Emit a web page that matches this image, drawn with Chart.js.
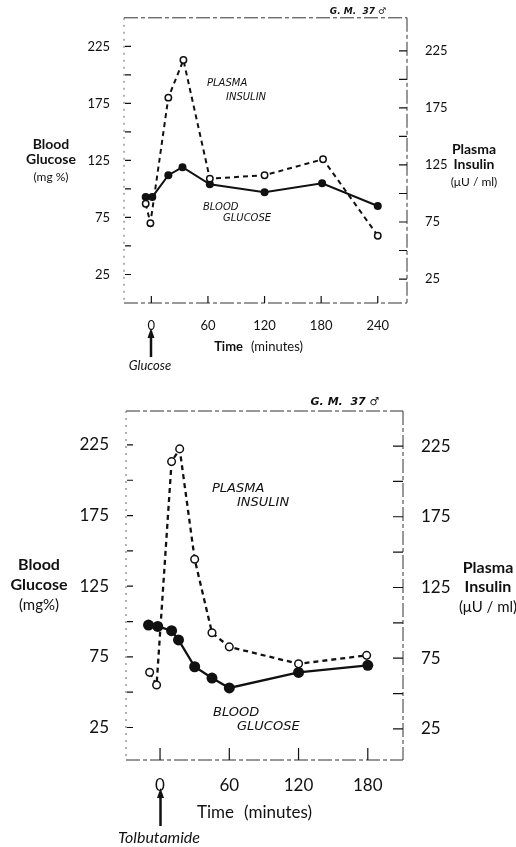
<!DOCTYPE html>
<html>
<head>
<meta charset="utf-8">
<script src="https://cdn.jsdelivr.net/npm/chart.js@4/dist/chart.umd.min.js"></script>
<style>
  body { margin: 0; background: #fff; width: 516px; height: 847px; overflow: hidden; position: relative; }
  canvas { position: absolute; left: 0; }
</style>
</head>
<body>
<canvas id="glucosePanel" width="516" height="380" style="top:0px"></canvas>
<canvas id="tolbPanel" width="516" height="467" style="top:380px"></canvas>
<script>
// Top panel: oral glucose (minutes / mg% / µU per ml)
var glucoseBgTimes = [-6, 1, 18, 33, 62, 120, 181, 240];
var glucoseBg = [93, 93, 112, 119, 104, 97, 105, 85];
var glucoseInsTimes = [-6, -1, 18, 34, 62, 120, 182, 240];
var glucoseIns = [91, 74, 184, 217, 113, 116, 130, 63];

// Bottom panel: tolbutamide
var tolbBgTimes = [-10, -2, 10, 16, 30, 45, 60, 120, 180];
var tolbBg = [97.5, 96.5, 93.5, 87, 68, 60, 53, 64, 69];
var tolbInsTimes = [-9, -3, 10, 17, 30, 45, 60, 120, 179];
var tolbIns = [65, 56, 214, 223, 145, 93, 83, 71, 77];

// Axis ticks
var yTicks = [25, 50, 75, 100, 125, 150, 175, 200, 225];
var yLabels = [25, 75, 125, 175, 225];
var topXTicks = [0, 60, 120, 180, 240];
var bottomXTicks = [0, 60, 120, 180];

var INK = '#111';
var TICK_FONT = 'Lato';

function zip(xs, ys) {
    return xs.map(function(x, i) { return { x: x, y: ys[i] }; });
}

function setTicks(list) {
    return function(scale) {
        scale.ticks = list.map(function(v) { return { value: v }; });
    };
}

// frame, inward tick marks and all the loose text
function panelPlugin(o) {
    return {
        id: 'panel',
        beforeDatasetsDraw: function(chart) {
            var c = chart.ctx, a = chart.chartArea, s = chart.scales;
            c.save();
            c.strokeStyle = '#333';
            c.lineWidth = 1;
            c.setLineDash([14, 3, 4, 3]);
            c.beginPath();
            c.moveTo(a.left, a.top); c.lineTo(a.right, a.top);
            c.moveTo(a.left, a.bottom); c.lineTo(a.right, a.bottom);
            c.moveTo(a.right, a.top); c.lineTo(a.right, a.bottom);
            c.stroke();
            c.setLineDash([2, 5]);
            c.strokeStyle = '#666';
            c.beginPath();
            c.moveTo(a.left, a.top); c.lineTo(a.left, a.bottom);
            c.stroke();
            c.setLineDash([]);
            c.strokeStyle = INK;
            c.lineWidth = 1.2;
            c.beginPath();
            yTicks.forEach(function(v) {
                var py = s.y.getPixelForValue(v);
                c.moveTo(a.left + 1, py); c.lineTo(a.left + o.tickL, py);
                var qy = s.y2.getPixelForValue(v);
                c.moveTo(a.right, qy); c.lineTo(a.right - o.tickR, qy);
            });
            o.xTicks.forEach(function(v) {
                var px = s.x.getPixelForValue(v);
                c.moveTo(px, a.bottom); c.lineTo(px, a.bottom - o.tickX);
            });
            c.stroke();
            c.restore();
        },
        afterDraw: function(chart) {
            var c = chart.ctx;
            c.save();
            c.fillStyle = INK;
            c.textBaseline = 'middle';
            o.texts.forEach(function(t) {
                c.font = t.font;
                c.textAlign = t.align || 'center';
                c.fillText(t.text, t.x, t.y);
            });
            // arrow under the x axis
            var ar = o.arrow;
            c.strokeStyle = INK;
            c.lineWidth = 2.5;
            c.beginPath();
            c.moveTo(ar.x, ar.bottom); c.lineTo(ar.x, ar.top + 8);
            c.stroke();
            c.beginPath();
            c.moveTo(ar.x, ar.top); c.lineTo(ar.x - 3.5, ar.top + 10); c.lineTo(ar.x + 3.5, ar.top + 10);
            c.closePath();
            c.fill();
            c.restore();
        }
    };
}

function makePanel(id, o) {
    var W = o.w, H = o.h, area = o.area;
    var tickFont = { family: TICK_FONT, size: o.tickSize };
    var labelOnly = function(v) { return yLabels.indexOf(v) >= 0 ? String(v) : ''; };
    return new Chart(document.getElementById(id), {
        type: 'line',
        data: {
            datasets: [
                {
                    label: 'Plasma insulin',
                    data: zip(o.insT, o.ins),
                    yAxisID: 'y2',
                    borderColor: INK,
                    borderWidth: o.lw,
                    borderDash: [5, 4],
                    pointRadius: o.openR,
                    pointBackgroundColor: '#fff',
                    pointBorderColor: INK,
                    pointBorderWidth: 1.5,
                    tension: 0
                },
                {
                    label: 'Blood glucose',
                    data: zip(o.bgT, o.bg),
                    yAxisID: 'y',
                    borderColor: INK,
                    borderWidth: o.lw,
                    pointRadius: o.dotR,
                    pointBackgroundColor: INK,
                    pointBorderWidth: 0,
                    tension: 0
                }
            ]
        },
        options: {
            responsive: false,
            animation: false,
            events: [],
            layout: { padding: { top: area.top, left: 0, right: 0, bottom: 0 } },
            plugins: { legend: { display: false }, tooltip: { enabled: false } },
            scales: {
                x: {
                    type: 'linear',
                    min: o.xMin, max: o.xMax,
                    grid: { display: false },
                    border: { display: false },
                    afterBuildTicks: setTicks(o.xTicks),
                    ticks: { font: tickFont, color: INK, padding: o.padX, maxRotation: 0, autoSkip: false },
                    afterFit: function(s) { s.height = H - area.bottom; }
                },
                y: {
                    position: 'left',
                    min: o.yMin, max: o.yMax,
                    grid: { display: false },
                    border: { display: false },
                    afterBuildTicks: setTicks(yTicks),
                    ticks: { font: tickFont, color: INK, padding: o.padL, autoSkip: false, callback: labelOnly },
                    afterFit: function(s) { s.width = area.left; }
                },
                y2: {
                    position: 'right',
                    min: o.y2Min, max: o.y2Max,
                    grid: { display: false },
                    border: { display: false },
                    afterBuildTicks: setTicks(yTicks),
                    ticks: { font: tickFont, color: INK, padding: o.padR, autoSkip: false, callback: labelOnly },
                    afterFit: function(s) { s.width = W - area.right; }
                }
            }
        },
        plugins: [panelPlugin(o)]
    });
}

makePanel('glucosePanel', {
    w: 516, h: 380,
    area: { left: 124, right: 407, top: 17, bottom: 303 },
    xMin: -29, xMax: 271, yMin: 0, yMax: 250, y2Min: 4, y2Max: 254,
    xTicks: topXTicks,
    bgT: glucoseBgTimes, bg: glucoseBg, insT: glucoseInsTimes, ins: glucoseIns,
    tickSize: 13, padX: 7, padL: 6, padR: 10,
    tickL: 7, tickR: 8, tickX: 7,
    lw: 2, dotR: 4, openR: 3.2,
    arrow: { x: 151, top: 328, bottom: 357 },
    texts: [
        { text: 'G. M.  37 \u2642', x: 358, y: 12, font: 'italic bold 9px "DejaVu Sans"' },
        { text: 'Blood', x: 51, y: 144, font: 'bold 14px Lato' },
        { text: 'Glucose', x: 51, y: 159, font: 'bold 14px Lato' },
        { text: '(mg %)', x: 51, y: 177, font: '12px Lato' },
        { text: 'Plasma', x: 474, y: 149, font: 'bold 14px Lato' },
        { text: 'Insulin', x: 474, y: 164, font: 'bold 14px Lato' },
        { text: '(\u03bcU / ml)', x: 474, y: 182, font: '12px Lato' },
        { text: 'Time', x: 243, y: 347, align: 'right', font: 'bold 13px Lato' },
        { text: '(minutes)', x: 251, y: 347, align: 'left', font: '13px Lato' },
        { text: 'Glucose', x: 150, y: 366, font: 'italic 13px Lato' },
        { text: 'PLASMA', x: 207, y: 83, align: 'left', font: 'italic 10px "DejaVu Sans"' },
        { text: 'INSULIN', x: 226, y: 97, align: 'left', font: 'italic 10px "DejaVu Sans"' },
        { text: 'BLOOD', x: 203, y: 207, align: 'left', font: 'italic 10px "DejaVu Sans"' },
        { text: 'GLUCOSE', x: 223, y: 218, align: 'left', font: 'italic 10px "DejaVu Sans"' }
    ]
});

makePanel('tolbPanel', {
    w: 516, h: 467,
    area: { left: 126, right: 403, top: 31, bottom: 380 },
    xMin: -29.5, xMax: 210.5, yMin: 2, yMax: 249, y2Min: 3, y2Max: 249.8,
    xTicks: bottomXTicks,
    bgT: tolbBgTimes, bg: tolbBg, insT: tolbInsTimes, ins: tolbIns,
    tickSize: 17, padX: 7, padL: 9, padR: 10,
    tickL: 7, tickR: 10, tickX: 12,
    lw: 2.3, dotR: 5.5, openR: 3.8,
    arrow: { x: 160.5, top: 408, bottom: 446 },
    texts: [
        { text: 'G. M.  37 \u2642', x: 345, y: 22, font: 'italic bold 11px "DejaVu Sans"' },
        { text: 'Blood', x: 39, y: 185, font: 'bold 16px Lato' },
        { text: 'Glucose', x: 39, y: 205, font: 'bold 16px Lato' },
        { text: '(mg%)', x: 39, y: 225, font: '15px Lato' },
        { text: 'Plasma', x: 488, y: 188, font: 'bold 16px Lato' },
        { text: 'Insulin', x: 488, y: 207, font: 'bold 16px Lato' },
        { text: '(\u03bcU / ml)', x: 488, y: 227, font: '15px Lato' },
        { text: 'Time', x: 234, y: 433, align: 'right', font: '17px Lato' },
        { text: '(minutes)', x: 244, y: 433, align: 'left', font: '17px Lato' },
        { text: 'Tolbutamide', x: 159, y: 458, font: 'italic 16px Lato' },
        { text: 'PLASMA', x: 212, y: 109, align: 'left', font: 'italic 13px "DejaVu Sans"' },
        { text: 'INSULIN', x: 237, y: 123, align: 'left', font: 'italic 13px "DejaVu Sans"' },
        { text: 'BLOOD', x: 213, y: 333, align: 'left', font: 'italic 13px "DejaVu Sans"' },
        { text: 'GLUCOSE', x: 237, y: 347, align: 'left', font: 'italic 13px "DejaVu Sans"' }
    ]
});
</script>
</body>
</html>
